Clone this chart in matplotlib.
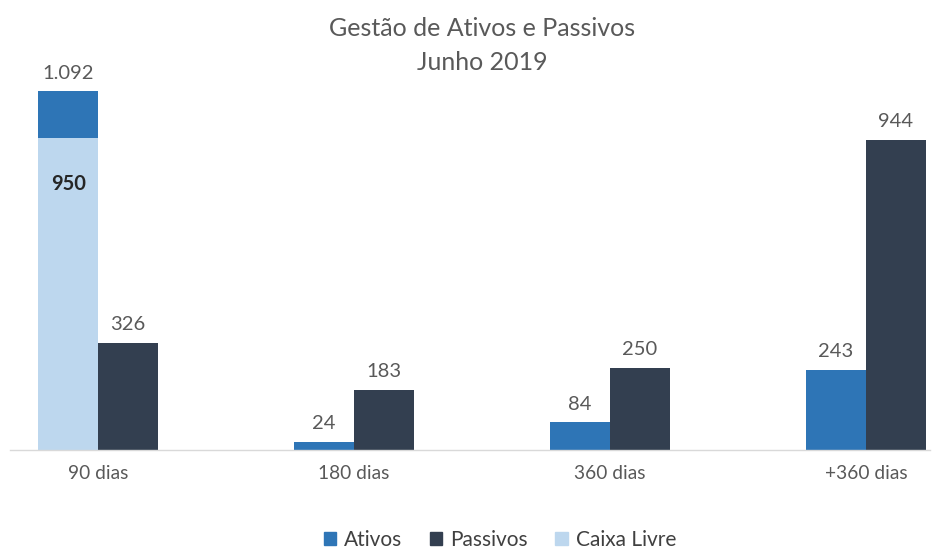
import matplotlib
matplotlib.use("Agg")
import matplotlib.pyplot as plt
from matplotlib.patches import Patch
import numpy as np

categories = ["90 dias", "180 dias", "360 dias", "+360 dias"]
ativos = [142, 24, 84, 243]
passivos = [326, 183, 250, 944]
caixa_livre = [950, 0, 0, 0]
ativos_labels = ["1.092", "24", "84", "243"]
caixa_labels = ["950", "", "", ""]

c_ativos = "#2E75B6"
c_passivos = "#333F50"
c_caixa = "#BDD7EE"
txt = "#595959"

plt.rcParams['font.family'] = ['Lato', 'DejaVu Sans']

fig = plt.figure(figsize=(9.39, 5.5), dpi=100)
ax = fig.add_axes([10/939, 100/550, 920/939, 394/550])

x = np.arange(len(categories))
w = 0.234
ax.bar(x - w/2, caixa_livre, w, color=c_caixa)
ax.bar(x - w/2, ativos, w, bottom=caixa_livre, color=c_ativos)
ax.bar(x + w/2, passivos, w, color=c_passivos)

for i in range(len(categories)):
    top = ativos[i] + caixa_livre[i]
    ax.annotate(ativos_labels[i], (x[i] - w/2, top), xytext=(0, 7), textcoords="offset points",
                ha="center", va="bottom", fontsize=14.5, color=txt)
    ax.annotate(str(passivos[i]), (x[i] + w/2, passivos[i]), xytext=(0, 7), textcoords="offset points",
                ha="center", va="bottom", fontsize=14.5, color=txt)
    if caixa_labels[i]:
        ax.annotate(caixa_labels[i], (x[i] - w/2, caixa_livre[i]), xytext=(0, -33), textcoords="offset points",
                    ha="center", va="center", fontsize=14.5, color="#262626", fontweight="bold")

ax.set_xlim(-0.344, 3.25)
ax.set_ylim(0, 1200)
ax.set_yticks([])
ax.set_xticks(x)
ax.set_xticklabels(categories, fontsize=13.8, color=txt)
ax.tick_params(axis="x", length=0, pad=11)
for s in ["top", "right", "left"]:
    ax.spines[s].set_visible(False)
ax.spines["bottom"].set_color("#D9D9D9")
ax.spines["bottom"].set_linewidth(1)

fig.text(482/939, 1 - 28/550, "Gestão de Ativos e Passivos", ha="center", va="center", fontsize=18, color=txt)
fig.text(482/939, 1 - 62/550, "Junho 2019", ha="center", va="center", fontsize=18, color=txt)

handles = [Patch(color=c_ativos, label="Ativos"), Patch(color=c_passivos, label="Passivos"),
           Patch(color=c_caixa, label="Caixa Livre")]
leg = fig.legend(handles=handles, loc="center", bbox_to_anchor=(500/939, 1 - 540/550), ncol=3,
                 frameon=False, fontsize=15, handlelength=0.6, handleheight=0.6, handletextpad=0.4,
                 columnspacing=1.3)
for t in leg.get_texts():
    t.set_color("#404040")

fig.savefig("out.png", dpi=100)
